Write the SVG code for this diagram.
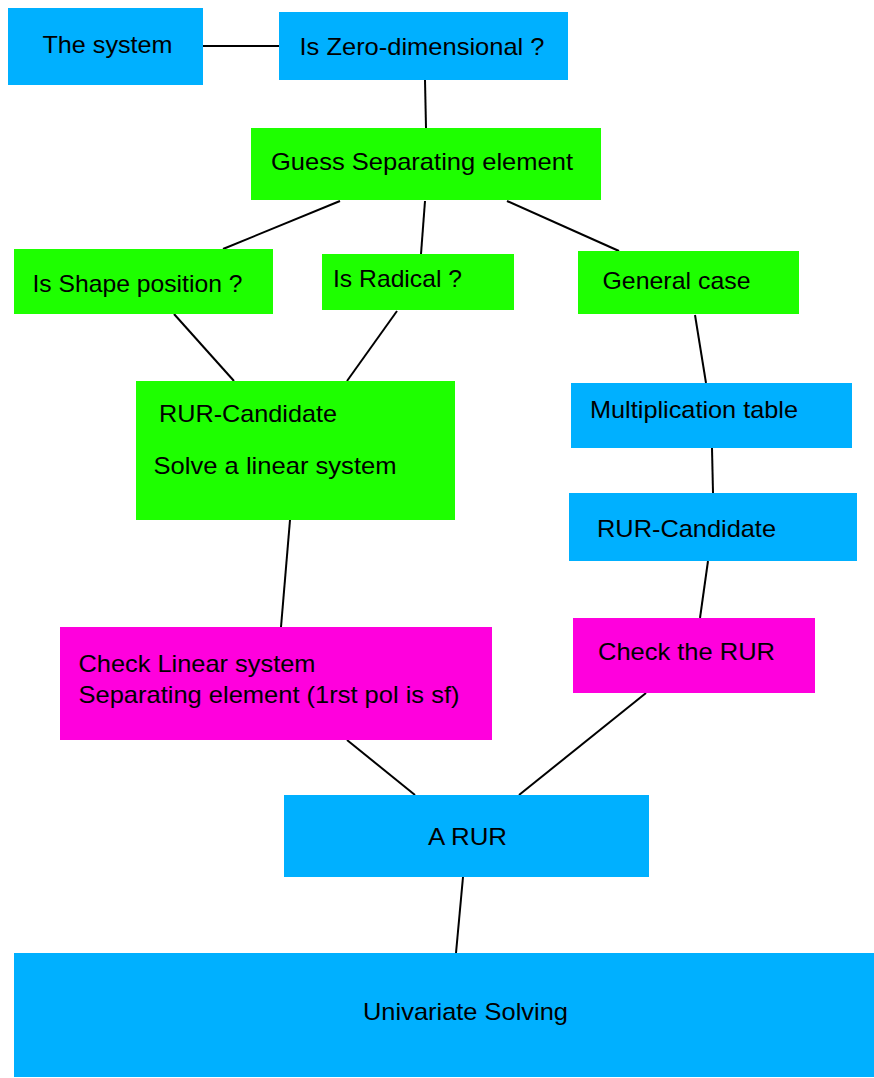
<svg xmlns="http://www.w3.org/2000/svg" width="874" height="1078" viewBox="0 0 874 1078">
<style>
.b{fill:#00B0FF}.g{fill:#1EFF00}.m{fill:#FF00DD}
text{font-family:"Liberation Sans",Arial,sans-serif;font-size:24px;fill:#000}
#edges line{stroke:#000;stroke-width:2}
</style>
<rect width="874" height="1078" fill="#fff"/>
<g id="edges">
<line x1="203" y1="46" x2="279" y2="46"/>
<line x1="425" y1="80" x2="426" y2="128"/>
<line x1="340" y1="201" x2="223" y2="249"/>
<line x1="425" y1="201" x2="421" y2="254"/>
<line x1="507" y1="201" x2="619" y2="251"/>
<line x1="174" y1="314" x2="234" y2="381"/>
<line x1="397" y1="311" x2="347" y2="381"/>
<line x1="695" y1="315" x2="706" y2="383"/>
<line x1="712" y1="448" x2="713" y2="493"/>
<line x1="290" y1="520" x2="281" y2="627"/>
<line x1="708" y1="561" x2="700" y2="618"/>
<line x1="347" y1="740" x2="415" y2="795"/>
<line x1="646" y1="693" x2="519" y2="795"/>
<line x1="463" y1="877" x2="456" y2="953"/>
</g>
<g id="n1"><rect class="b" x="8" y="8" width="195" height="77"/><text x="42.5" y="53" textLength="130" lengthAdjust="spacingAndGlyphs">The system</text></g>
<g id="n2"><rect class="b" x="279" y="12" width="289" height="68"/><text x="299.5" y="55" textLength="245" lengthAdjust="spacingAndGlyphs">Is Zero-dimensional ?</text></g>
<g id="n3"><rect class="g" x="251" y="128" width="350" height="72"/><text x="271" y="169.5" textLength="302" lengthAdjust="spacingAndGlyphs">Guess Separating element</text></g>
<g id="n4"><rect class="g" x="14" y="249" width="259" height="65"/><text x="32.5" y="291.5" textLength="210" lengthAdjust="spacingAndGlyphs">Is Shape position ?</text></g>
<g id="n5"><rect class="g" x="322" y="254" width="192" height="56"/><text x="333" y="286.5" textLength="129" lengthAdjust="spacingAndGlyphs">Is Radical ?</text></g>
<g id="n6"><rect class="g" x="578" y="251" width="221" height="63"/><text x="602.5" y="289" textLength="148" lengthAdjust="spacingAndGlyphs">General case</text></g>
<g id="n7"><rect class="g" x="136" y="381" width="319" height="139"/><text x="159" y="422" textLength="178" lengthAdjust="spacingAndGlyphs">RUR-Candidate</text><text x="153.5" y="474" textLength="243" lengthAdjust="spacingAndGlyphs">Solve a linear system</text></g>
<g id="n8"><rect class="b" x="571" y="383" width="281" height="65"/><text x="590" y="417.5" textLength="208" lengthAdjust="spacingAndGlyphs">Multiplication table</text></g>
<g id="n9"><rect class="b" x="569" y="493" width="288" height="68"/><text x="597" y="536.5" textLength="179" lengthAdjust="spacingAndGlyphs">RUR-Candidate</text></g>
<g id="n10"><rect class="m" x="60" y="627" width="432" height="113"/><text x="78.5" y="671.5" textLength="237" lengthAdjust="spacingAndGlyphs">Check Linear system</text><text x="78.5" y="702.5" textLength="381" lengthAdjust="spacingAndGlyphs">Separating element (1rst pol is sf)</text></g>
<g id="n11"><rect class="m" x="573" y="618" width="242" height="75"/><text x="598" y="659.5" textLength="177" lengthAdjust="spacingAndGlyphs">Check the RUR</text></g>
<g id="n12"><rect class="b" x="284" y="795" width="365" height="82"/><text x="428" y="845" textLength="79" lengthAdjust="spacingAndGlyphs">A RUR</text></g>
<g id="n13"><rect class="b" x="14" y="953" width="860" height="124"/><text x="363" y="1020" textLength="205" lengthAdjust="spacingAndGlyphs">Univariate Solving</text></g>
</svg>
